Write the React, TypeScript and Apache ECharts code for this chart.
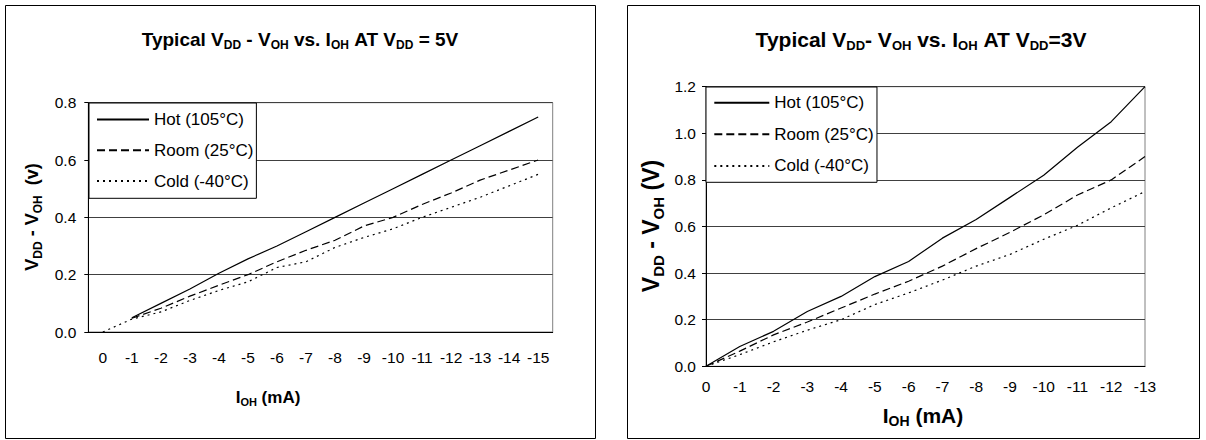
import React, { useEffect, useRef } from "react";
import * as echarts from "echarts";

const FONT = "'Liberation Sans', Arial, Helvetica, sans-serif";

const seriesNames = ["Hot (105°C)", "Room (25°C)", "Cold (-40°C)"];

// Left chart: VDD = 5V
const leftCategories = ["0", "-1", "-2", "-3", "-4", "-5", "-6", "-7", "-8", "-9", "-10", "-11", "-12", "-13", "-14", "-15"];
const leftHot = [null, 0.05, 0.1, 0.15, 0.205, 0.255, 0.3, 0.35, 0.4, 0.45, 0.5, 0.55, 0.6, 0.65, 0.7, 0.75];
const leftRoom = [null, 0.048, 0.083, 0.125, 0.163, 0.2, 0.245, 0.285, 0.32, 0.37, 0.4, 0.445, 0.485, 0.53, 0.565, 0.6];
const leftCold = [0, 0.045, 0.07, 0.11, 0.145, 0.175, 0.225, 0.245, 0.295, 0.33, 0.36, 0.4, 0.435, 0.47, 0.51, 0.55];

// Right chart: VDD = 3V
const rightCategories = ["0", "-1", "-2", "-3", "-4", "-5", "-6", "-7", "-8", "-9", "-10", "-11", "-12", "-13"];
const rightHot = [0, 0.085, 0.15, 0.235, 0.3, 0.385, 0.45, 0.55, 0.63, 0.725, 0.82, 0.94, 1.05, 1.2];
const rightRoom = [0, 0.065, 0.135, 0.19, 0.25, 0.31, 0.365, 0.43, 0.505, 0.575, 0.65, 0.735, 0.8, 0.9];
const rightCold = [0, 0.05, 0.105, 0.155, 0.2, 0.265, 0.315, 0.37, 0.43, 0.48, 0.545, 0.605, 0.68, 0.75];

const dashTypes: any[] = ["solid", [8, 4], [2, 4]];

const NB = "\u00A0";

function richText(parts: [string, boolean][]) {
  return parts.map(([t, s]) => `{${s ? "s" : "n"}|${t}}`).join("");
}

function richStyles(main: number, sub: number) {
  const L = Math.round(main * 1.25);
  const SL = Math.round(sub * 1.1);
  return {
    n: { fontSize: main, fontWeight: "bold", fontFamily: FONT, lineHeight: L, fill: "#000" },
    s: { fontSize: sub, fontWeight: "bold", fontFamily: FONT, lineHeight: SL, verticalAlign: "bottom", fill: "#000" },
  };
}

function label(x: number, y: number, parts: [string, boolean][], main: number, sub: number, rotation = 0) {
  return {
    type: "text",
    x,
    y,
    rotation,
    silent: true,
    style: {
      text: richText(parts),
      rich: richStyles(main, sub),
      align: "center",
      verticalAlign: "middle",
      fill: "#000",
    },
  };
}

function makeSeries(data: (number | null)[], idx: number, i: number) {
  return {
    name: seriesNames[i],
    type: "line",
    xAxisIndex: idx,
    yAxisIndex: idx,
    data,
    symbol: "none",
    showSymbol: false,
    connectNulls: false,
    silent: true,
    lineStyle: { color: "#000", width: 1.2, type: dashTypes[i], cap: "butt" },
    itemStyle: { color: "#000" },
  };
}

const axisLabelStyle = { color: "#000", fontFamily: FONT, fontSize: 15.5 };

export default function App() {
  const ref = useRef<HTMLDivElement>(null);
  useEffect(() => {
    if (!ref.current) return;
    const chart = echarts.init(ref.current, undefined, { renderer: "svg" });
    const option: any = {
      animation: false,
      backgroundColor: "#fff",
      grid: [
        { left: 88.3, top: 102.7, width: 464.4, height: 229.3, show: true, borderColor: "#808080", borderWidth: 1, backgroundColor: "transparent" },
        { left: 706, top: 86.7, width: 439, height: 279.6, show: true, borderColor: "#808080", borderWidth: 1, backgroundColor: "transparent" },
      ],
      xAxis: [
        {
          type: "category",
          gridIndex: 0,
          data: leftCategories,
          boundaryGap: true,
          axisLine: { lineStyle: { color: "#000", width: 1 } },
          axisTick: { show: false },
          axisLabel: { ...axisLabelStyle, margin: 17, interval: 0 },
          splitLine: { show: false },
        },
        {
          type: "category",
          gridIndex: 1,
          data: rightCategories,
          boundaryGap: false,
          axisLine: { lineStyle: { color: "#000", width: 1 } },
          axisTick: { show: false },
          axisLabel: { ...axisLabelStyle, margin: 12.5, interval: 0 },
          splitLine: { show: false },
        },
      ],
      yAxis: [
        {
          type: "value",
          gridIndex: 0,
          min: 0,
          max: 0.8,
          interval: 0.2,
          axisLine: { show: true, lineStyle: { color: "#000", width: 1 } },
          axisTick: { show: true, length: 4, lineStyle: { color: "#000" } },
          axisLabel: { ...axisLabelStyle, margin: 12, formatter: (v: number) => v.toFixed(1) },
          splitLine: { show: true, lineStyle: { color: "#404040", width: 1 } },
        },
        {
          type: "value",
          gridIndex: 1,
          min: 0,
          max: 1.2,
          interval: 0.2,
          axisLine: { show: true, lineStyle: { color: "#000", width: 1 } },
          axisTick: { show: true, length: 4, lineStyle: { color: "#000" } },
          axisLabel: { ...axisLabelStyle, margin: 10, formatter: (v: number) => v.toFixed(1) },
          splitLine: { show: true, lineStyle: { color: "#404040", width: 1 } },
        },
      ],
      legend: [
        {
          left: 89,
          top: 103,
          orient: "vertical",
          padding: [6.6, 3, 7.3, 7],
          itemWidth: 52,
          itemHeight: 10,
          itemGap: 10.7,
          selectedMode: false,
          borderColor: "#000",
          borderWidth: 1,
          backgroundColor: "#fff",
          textStyle: { color: "#000", fontFamily: FONT, fontSize: 17, lineHeight: 20 },
          itemStyle: { opacity: 0 },
          data: seriesNames,
        },
        {
          left: 706,
          top: 87,
          orient: "vertical",
          padding: [5.7, 3.3, 6.4, 7.3],
          itemWidth: 55,
          itemHeight: 10,
          itemGap: 11.6,
          selectedMode: false,
          borderColor: "#000",
          borderWidth: 1,
          backgroundColor: "#fff",
          textStyle: { color: "#000", fontFamily: FONT, fontSize: 17, lineHeight: 20 },
          itemStyle: { opacity: 0 },
          data: seriesNames,
        },
      ],
      series: [
        makeSeries(leftHot, 0, 0),
        makeSeries(leftRoom, 0, 1),
        makeSeries(leftCold, 0, 2),
        makeSeries(rightHot, 1, 0),
        makeSeries(rightRoom, 1, 1),
        makeSeries(rightCold, 1, 2),
      ],
      graphic: [
        { type: "rect", silent: true, shape: { x: 5.5, y: 5.5, width: 590, height: 433 }, style: { fill: "none", stroke: "#000", lineWidth: 1 } },
        { type: "rect", silent: true, shape: { x: 627.5, y: 5.5, width: 572, height: 433 }, style: { fill: "none", stroke: "#000", lineWidth: 1 } },
        label(300, 39, [["Typical V", false], ["DD", true], [NB + "- V", false], ["OH", true], [NB + "vs. I", false], ["OH", true], [NB + "AT V", false], ["DD", true], [NB + "= 5V", false]], 19, 12),
        label(921, 39, [["Typical V", false], ["DD", true], ["- V", false], ["OH", true], [NB + "vs. I", false], ["OH", true], [NB + "AT V", false], ["DD", true], ["=3V", false]], 21, 13),
        label(268, 397, [["I", false], ["OH", true], [NB + "(mA)", false]], 17, 11),
        label(923, 415, [["I", false], ["OH", true], [NB + "(mA)", false]], 21, 14),
        label(32, 217, [["V", false], ["DD", true], [NB + "- V", false], ["OH", true], [NB + NB + "(v)", false]], 18, 12, Math.PI / 2),
        label(651, 226, [["V", false], ["DD", true], [NB + "- V", false], ["OH", true], [NB + "(V)", false]], 23, 15, Math.PI / 2),
      ],
    };
    chart.setOption(option);
    return () => chart.dispose();
  }, []);
  return <div ref={ref} style={{ position: "fixed", left: 0, top: 0, width: 1206, height: 440, background: "#fff" }} />;
}
